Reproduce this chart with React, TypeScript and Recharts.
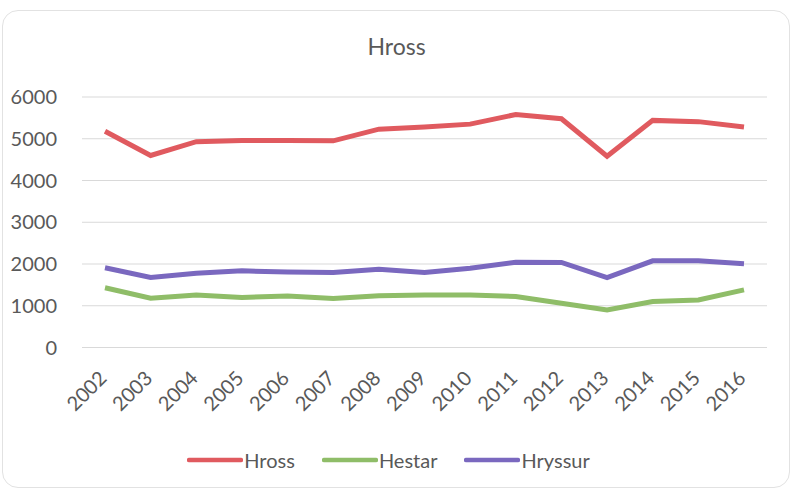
import React from 'react';
import { LineChart, Line, XAxis, YAxis, CartesianGrid, Legend } from 'recharts';

const years = ['2002','2003','2004','2005','2006','2007','2008','2009','2010','2011','2012','2013','2014','2015','2016'];
const hross = [5180, 4600, 4930, 4960, 4960, 4950, 5230, 5280, 5350, 5580, 5480, 4580, 5440, 5410, 5280];
const hestar = [1430, 1180, 1260, 1200, 1236, 1172, 1240, 1260, 1260, 1220, 1060, 900, 1100, 1140, 1380];
const hryssur = [1910, 1675, 1780, 1836, 1810, 1795, 1876, 1795, 1900, 2044, 2036, 1675, 2076, 2076, 2004];
const yTicks = [0, 1000, 2000, 3000, 4000, 5000, 6000];
const seriesOrder = ['Hross', 'Hestar', 'Hryssur'];

const data = years.map((y, i) => ({ year: y, Hross: hross[i], Hestar: hestar[i], Hryssur: hryssur[i] }));

const FONT = 'Lato, "Open Sans", sans-serif';
const TEXT = '#595959';

const XTick = (props: any) => {
  const { x, y, payload } = props;
  return (
    <g transform={`translate(${x + 3},${y + 24})`}>
      <text x={0} y={0} textAnchor="end" transform="rotate(-45)" fill={TEXT} fontSize={20} fontFamily={FONT}>
        {payload.value}
      </text>
    </g>
  );
};

const LegendContent = (props: any) => {
  const payload = [...(props.payload || [])].sort(
    (a: any, b: any) => seriesOrder.indexOf(a.value) - seriesOrder.indexOf(b.value)
  );
  return (
    <div style={{ display: 'flex', justifyContent: 'center', alignItems: 'center', height: 30, fontFamily: FONT, fontSize: 20, color: TEXT }}>
      {payload.map((p: any, i: number) => (
        <div key={i} style={{ display: 'flex', alignItems: 'center', marginRight: i < payload.length - 1 ? 27 : 0 }}>
          <svg width={56} height={8} style={{ display: 'block' }}>
            <line x1={2} y1={4} x2={54} y2={4} stroke={p.color} strokeWidth={4.5} strokeLinecap="round" />
          </svg>
          <span style={{ marginLeft: 1 }}>{p.value}</span>
        </div>
      ))}
    </div>
  );
};

export default function App() {
  return (
    <div style={{ position: 'fixed', left: 0, top: 0, width: 793, height: 491, background: '#fff' }}>
      <div style={{ position: 'absolute', left: 2, top: 10, width: 786, height: 476, border: '1px solid #e2e2e2', borderRadius: 16 }} />
      <div style={{ position: 'absolute', left: 0, top: 32, width: 793, textAlign: 'center', fontFamily: FONT, fontSize: 23, color: TEXT }}>
        Hross
      </div>
      <div style={{ position: 'absolute', left: 0, top: 0 }}>
        <LineChart width={793} height={491} data={data} margin={{ top: 97, right: 26, bottom: 16, left: 10 }}>
          <CartesianGrid vertical={false} stroke="#d9d9d9" strokeWidth={1} />
          <XAxis
            dataKey="year"
            axisLine={false}
            tickLine={false}
            interval={0}
            height={97.5}
            padding={{ left: 23, right: 23 }}
            tick={<XTick />}
          />
          <YAxis
            domain={[0, 6000]}
            ticks={yTicks}
            width={72}
            axisLine={false}
            tickLine={false}
            tickSize={0}
            tickMargin={25}
            tick={{ fill: TEXT, fontSize: 20, fontFamily: FONT }}
          />
          <Legend verticalAlign="bottom" content={<LegendContent />} />
          <Line type="linear" dataKey="Hross" stroke="#e05a5f" strokeWidth={5} dot={false} isAnimationActive={false} />
          <Line type="linear" dataKey="Hestar" stroke="#8fbd68" strokeWidth={5} dot={false} isAnimationActive={false} />
          <Line type="linear" dataKey="Hryssur" stroke="#7a68bf" strokeWidth={5} dot={false} isAnimationActive={false} />
        </LineChart>
      </div>
    </div>
  );
}
